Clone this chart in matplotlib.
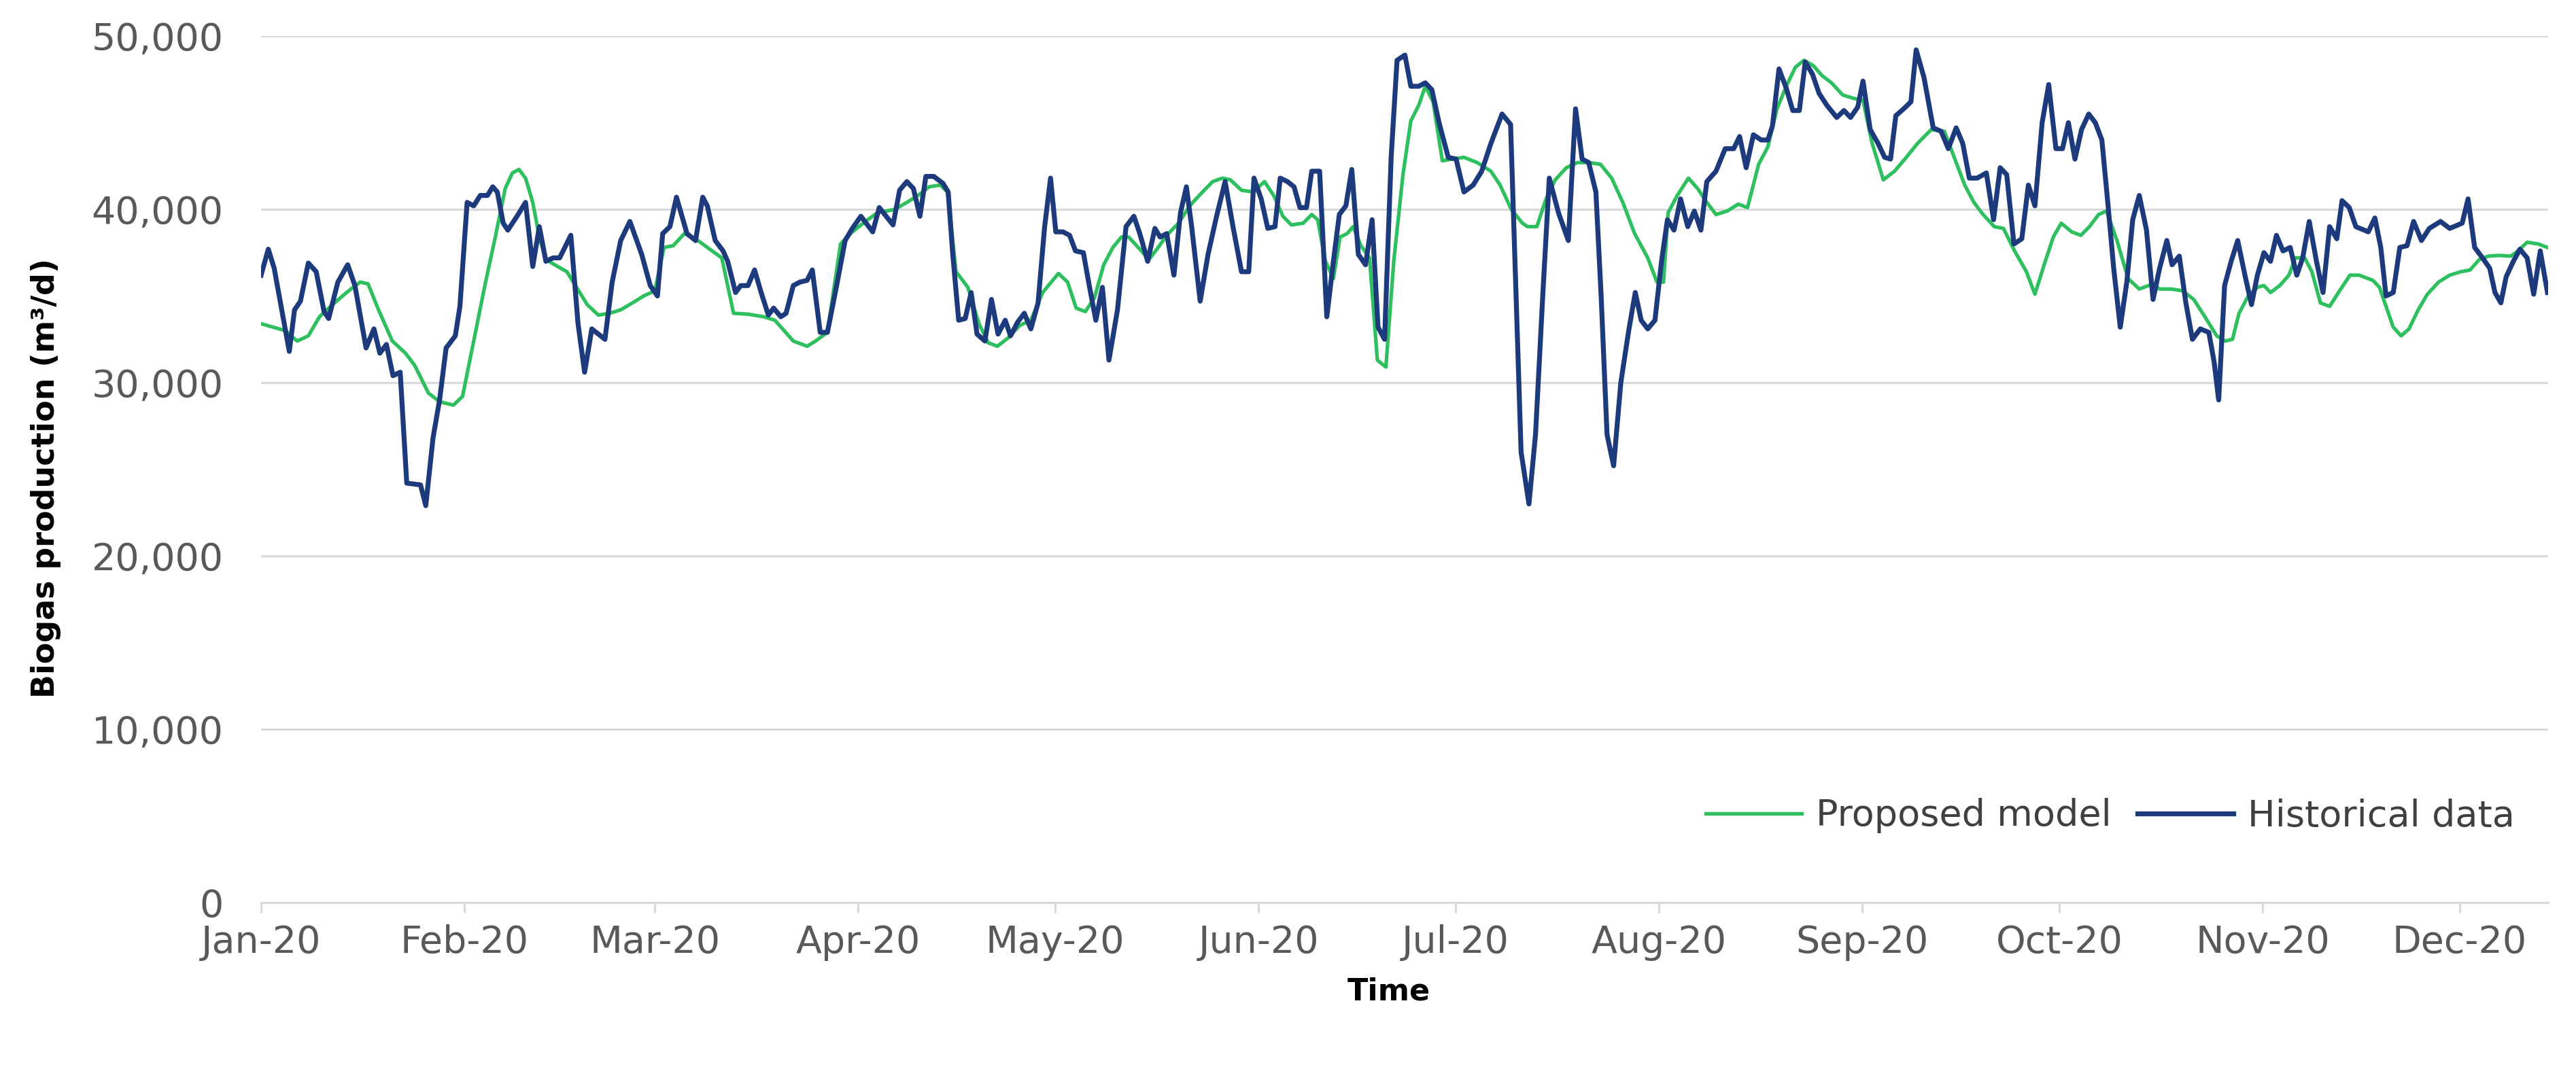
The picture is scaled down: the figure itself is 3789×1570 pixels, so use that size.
import numpy as np
import pandas as pd
import matplotlib
matplotlib.use('Agg')
import matplotlib.pyplot as plt
import matplotlib.dates as mdates
from matplotlib.ticker import FuncFormatter

# day offsets from 1 Jan 2020 and biogas values (m3/d)
hist_days = [0, 1.1, 2, 4.3, 5.1, 6, 7.2, 8.4, 9.6, 10.3, 11.7, 13.2, 14.3, 16, 17.2, 18.1, 19.1, 20.1, 21.2, 22.2,
             24.3, 25.1, 26.2, 27.2, 28.2, 29.6, 30.3, 31.4, 32.4, 33.4, 34.5, 35.3, 36, 36.9, 37.6, 39, 40.3, 41.4,
             42.4, 43.4, 44.5, 45.5, 47.2, 48.3, 49.3, 50.4, 51.4, 52.4, 53.5, 54.8, 56.2, 58, 59.3, 60.4, 61.2, 62.3,
             63.3, 64.9, 66.2, 67.3, 68, 69.2, 70.4, 71.1, 72.3, 73.1, 74.2, 75.2, 76.2, 77.3, 78.1, 79.2, 80, 81.1,
             82.1, 83.2, 84, 85.2, 86.3, 87.6, 89, 90.1, 91.4, 93.2, 94.2, 96.3, 97.3, 98.4, 99.4, 100.4, 101.3, 102.5,
             103.9, 104.7, 105.4, 106.3, 107.3, 108.2, 109.1, 110.3, 111.3, 112.3, 113.4, 114.2, 115.3, 116.3, 117.3,
             118.4, 119.4, 120.3, 121.1, 122.2, 123.2, 124.1, 125.3, 126.2, 127.2, 128.2, 129.2, 130.5, 131.8, 133,
             133.9, 135.1, 136.2, 137, 138, 139.1, 140.1, 141, 141.8, 143.1, 144.3, 145.6, 146.9, 148.1, 149.4, 150.5,
             151.3, 152.4, 153.4, 154.5, 155.3, 156.4, 157.4, 158.3, 159.3, 160.1, 161.3, 162.4, 163.4, 164.3, 165.3,
             166.2, 167.2, 168.3, 169.3, 170.2, 171.2, 172.2, 173.1, 174.3, 175.2, 176.4, 177.4, 178.4, 179.5, 180.9,
             182.1, 183.3, 184.7, 186, 187.4, 189.1, 190.4, 192, 193.2, 194.2, 195.3, 196.3, 197.7, 199.2, 200.3,
             201.3, 202.3, 203.4, 204.2, 205.1, 206.1, 207.2, 208.4, 209.4, 210.3, 211.3, 212.4, 213.4, 214.3, 215.3,
             216.3, 217.4, 218.4, 219.4, 220.3, 221.7, 223.1, 224.4, 225.3, 226.3, 227.4, 228.6, 229.6, 230.3, 231.3,
             232.4, 233.4, 234.4, 235.3, 236.4, 237.4, 238.6, 240.1, 241.2, 242.2, 243.3, 244.1, 245.2, 246.4, 247.4,
             248.3, 249.1, 250.3, 251.4, 252.2, 253.4, 254.8, 256, 257.1, 258.3, 259.3, 260.3, 261.5, 262.9, 264, 265,
             266, 267.1, 268.3, 269.3, 270.3, 271.4, 272.4, 273.5, 274.5, 275.4, 276.4, 277.4, 278.5, 279.5, 280.5,
             281.4, 282.3, 283.3, 284.3, 285.2, 286.2, 287.3, 288.3, 289.3, 290.4, 291.2, 292.3, 293.3, 294.3, 295.5,
             296.8, 297.6, 298.3, 299.2, 300.2, 301.2, 302.3, 303.3, 304.2, 305.2, 306.2, 307.1, 308.1, 309.2, 310.2,
             311.1, 312.1, 313.2, 314.2, 315.2, 316.3, 317.1, 318.2, 319.2, 321.1, 322.1, 323, 323.8, 324.9, 325.9,
             327, 328, 329.2, 330.4, 332.1, 333.5, 335.4, 336.3, 337.3, 338.5, 339.6, 340.4, 341.3, 342.1, 343.2,
             344.2, 345.3, 346.3, 347.3, 348.4]
hist_vals = [36200, 37700, 36600, 31800, 34200, 34700, 36900, 36400, 34100, 33700, 35800, 36800, 35600, 32000, 33100,
             31700, 32200, 30400, 30600, 24200, 24100, 22900, 26800, 29000, 32000, 32700, 34400, 40400, 40200, 40800,
             40800, 41300, 41000, 39200, 38800, 39600, 40400, 36700, 39000, 37000, 37200, 37200, 38500, 33400, 30600,
             33100, 32800, 32500, 35800, 38200, 39300, 37400, 35600, 35000, 38600, 39000, 40700, 38600, 38200, 40700,
             40200, 38200, 37600, 37000, 35200, 35600, 35600, 36500, 35200, 33900, 34300, 33800, 34000, 35600, 35800,
             35900, 36500, 32900, 32900, 35400, 38200, 38900, 39600, 38700, 40100, 39100, 41100, 41600, 41200, 39600,
             41900, 41900, 41500, 41000, 37400, 33600, 33700, 35200, 32800, 32400, 34800, 32800, 33600, 32700, 33500,
             34000, 33100, 34600, 39000, 41800, 38700, 38700, 38500, 37600, 37500, 35600, 33600, 35500, 31300, 34200,
             39000, 39600, 38600, 37000, 38900, 38400, 38600, 36200, 39800, 41300, 39000, 34700, 37400, 39600, 41600,
             39000, 36400, 36400, 41800, 40600, 38900, 39000, 41800, 41600, 41300, 40100, 40100, 42200, 42200, 33800,
             37000, 39700, 40200, 42300, 37400, 36800, 39400, 33200, 32500, 43000, 48600, 48900, 47100, 47100, 47300,
             46900, 45000, 43000, 42900, 41000, 41400, 42200, 43800, 45500, 44900, 26000, 23000, 27000, 35000, 41800,
             39800, 38200, 45800, 42900, 42700, 41000, 35000, 27000, 25200, 30000, 33000, 35200, 33600, 33100, 33600,
             37000, 39400, 38800, 40600, 39000, 39900, 38800, 41600, 42200, 43500, 43500, 44200, 42400, 44300, 44000,
             44000, 44800, 48100, 47000, 45700, 45700, 48500, 47800, 46700, 46000, 45300, 45700, 45300, 45900, 47400,
             44600, 43800, 43000, 42900, 45400, 45800, 46200, 49200, 47600, 44700, 44500, 43500, 44700, 43800, 41800,
             41800, 42100, 39400, 42400, 42000, 38000, 38300, 41400, 40200, 45000, 47200, 43500, 43500, 45000, 42900,
             44600, 45500, 45000, 44000, 40400, 36600, 33200, 35800, 39400, 40800, 38800, 34800, 36600, 38200, 36800,
             37300, 34600, 32500, 33100, 32900, 31200, 29000, 35600, 37000, 38200, 36200, 34500, 36200, 37500, 37000,
             38500, 37600, 37800, 36200, 37200, 39300, 37000, 35200, 39000, 38300, 40500, 40100, 39000, 38700, 39500,
             37800, 35000, 35200, 37800, 37900, 39300, 38200, 38900, 39300, 38900, 39200, 40600, 37800, 37200, 36600,
             35200, 34600, 36100, 37000, 37700, 37200, 35100, 37600, 35200]

model_days = [0, 3.7, 5.5, 7.2, 8.9, 10.6, 12.4, 13.7, 15.1, 16.3, 17.9, 20, 22, 23.4, 25.5, 27.2, 29.3, 30.7, 32.4,
              34.1, 35.8, 37.2, 38.3, 39.3, 40.3, 41.4, 42.4, 43.4, 45.2, 46.6, 47.9, 49.7, 51.4, 53.1, 54.8, 56.6,
              58.3, 60, 61.4, 62.8, 64.5, 66.2, 68, 70.2, 72, 74.2, 76.6, 78.3, 79.7, 81.1, 83.2, 84.5, 86.3, 88.3,
              90.1, 92.1, 93.9, 96.6, 98.4, 100.1, 101.8, 103.5, 104.6, 105.9, 107.7, 109.4, 110.8, 112.2, 113.9,
              115.6, 117.3, 119.1, 121.5, 122.9, 124.2, 125.6, 127, 128.4, 129.8, 131.1, 132.2, 133.9, 135.3, 136.7,
              138, 139.8, 141.5, 143.2, 145, 146.5, 147.7, 149.4, 151.2, 152.9, 154.3, 155.7, 157, 158.8, 160.1, 161,
              162.2, 163.4, 164.4, 165.5, 166.4, 167.6, 168.9, 170.1, 171.4, 172.6, 174, 175.2, 176.4, 177.4, 178.6,
              180, 181.5, 183.3, 185.3, 187.4, 188.8, 190.5, 192.2, 193, 194.4, 195.8, 197.2, 198.9, 200.6, 202.3,
              204.1, 205.8, 207.5, 209.3, 211.3, 212.7, 213.7, 214.4, 215.8, 217.5, 218.9, 220.3, 221.7, 223.4,
              225.1, 226.5, 228.2, 229.6, 231, 232.4, 233.8, 235.1, 236.5, 237.9, 239.3, 241, 242.7, 244.1, 245.5,
              247.2, 248.9, 250.7, 252.4, 254.5, 256.5, 257.6, 258.6, 259.6, 261, 262.4, 264.1, 265.5, 267.2, 269,
              270.3, 271.7, 273.1, 274.3, 275.9, 277.3, 278.6, 280, 281.2, 282.8, 284.5, 286.2, 288.3, 289.3, 291.1,
              292.8, 294.5, 296.2, 298, 299.3, 300.4, 301.4, 302.8, 304.2, 305.2, 306.2, 307.6, 309, 310, 311.4,
              312.5, 313.8, 315.2, 316.9, 318.3, 319.7, 321.8, 322.8, 323.8, 324.9, 326.1, 327.3, 328.7, 330.1,
              331.8, 333.5, 335.2, 336.6, 338, 339.4, 341.1, 342.8, 343.9, 345.3, 347, 348.4]
model_vals = [33400, 33000, 32400, 32700, 33800, 34400, 35000, 35400, 35800, 35700, 34200, 32400, 31700, 31000, 29400,
              28900, 28700, 29200, 32400, 35600, 38600, 41200, 42100, 42300, 41800, 40400, 38400, 37100, 36700, 36400,
              35600, 34500, 33900, 34000, 34200, 34600, 35000, 35300, 37800, 37900, 38600, 38300, 37800, 37200, 34000,
              33950, 33800, 33600, 33000, 32400, 32100, 32400, 32900, 38000, 38700, 39300, 39800, 40000, 40400, 40800,
              41300, 41400, 41000, 36400, 35500, 33400, 32300, 32100, 32600, 33300, 33600, 35200, 36300, 35800, 34300,
              34100, 34900, 36800, 37800, 38400, 38400, 37700, 37100, 37800, 38500, 39200, 40200, 40900, 41600, 41800,
              41700, 41100, 41000, 41600, 40800, 39600, 39100, 39200, 39700, 39400, 37000, 36000, 38400, 38600, 39000,
              37900, 37200, 31300, 30900, 37000, 42000, 45100, 46000, 47100, 46200, 42800, 42900, 43000, 42700, 42200,
              41400, 40000, 39200, 39000, 39000, 40600, 41700, 42400, 42700, 42700, 42600, 41800, 40400, 38600, 37200,
              35800, 35800, 39800, 40800, 41800, 41200, 40400, 39700, 39900, 40300, 40100, 42600, 43600, 45800, 47100,
              48200, 48600, 48300, 47700, 47300, 46600, 46400, 46300, 43800, 41700, 42200, 43000, 43800, 44600, 44500,
              43400, 42400, 41400, 40400, 39700, 39000, 38900, 37600, 36400, 35100, 36800, 38400, 39200, 38700, 38500,
              39000, 39700, 39900, 38200, 36000, 35400, 35700, 35400, 35400, 35300, 34800, 33800, 32700, 32400, 32500,
              34000, 35000, 35500, 35600, 35200, 35600, 36200, 37200, 37200, 36400, 34600, 34400, 35400, 36200, 36200,
              35900, 35500, 34400, 33200, 32700, 33100, 34200, 35100, 35800, 36200, 36400, 36500, 37100, 37300, 37340,
              37300, 37600, 38100, 38000, 37800]

start = pd.Timestamp('2020-01-01')
hist_dates = start + pd.to_timedelta(hist_days, unit='D')
model_dates = start + pd.to_timedelta(model_days, unit='D')

fig = plt.figure(figsize=(37.89, 15.70), dpi=100)
ax = fig.add_axes([384 / 3789, 1 - 1328 / 1570, 3364 / 3789, 1275 / 1570])

ax.plot(model_dates, model_vals, color='#2EBF5E', lw=3.8, label='Proposed model')
ax.plot(hist_dates, hist_vals, color='#1C3A7C', lw=5.2, label='Historical data')

ax.set_ylim(0, 50000)
ax.set_yticks(np.arange(0, 50001, 10000))
ax.yaxis.set_major_formatter(FuncFormatter(lambda v, p: f'{int(v):,}'))
ax.set_xlim(start, start + pd.Timedelta(days=348.5))
ax.xaxis.set_major_locator(mdates.MonthLocator())
ax.xaxis.set_major_formatter(mdates.DateFormatter('%b-%y'))

ax.grid(axis='y', color='#D9D9D9', lw=2.2)
ax.set_axisbelow(True)
for s in ['top', 'right', 'left']:
    ax.spines[s].set_visible(False)
ax.spines['bottom'].set_color('#D9D9D9')
ax.spines['bottom'].set_linewidth(2.2)

ax.tick_params(axis='y', length=0, pad=40, labelsize=40, labelcolor='#595959')
ax.tick_params(axis='x', length=11, width=2.2, color='#D9D9D9', pad=12, labelsize=40, labelcolor='#595959')

ax.set_ylabel('Biogas production (m³/d)', fontsize=33, fontweight='bold', va='center')
ax.yaxis.set_label_coords(-0.094, 0.49)
ax.set_xlabel('Time', fontsize=32, fontweight='bold', va='center')
ax.xaxis.set_label_coords(0.493, -0.103)

ax.legend(loc='center right', bbox_to_anchor=(1.0, 0.1), ncol=2, frameon=False, fontsize=39,
          handlelength=2.6, columnspacing=0.7, handletextpad=0.4, labelcolor='#404040')

plt.savefig('out.png', dpi=100)
